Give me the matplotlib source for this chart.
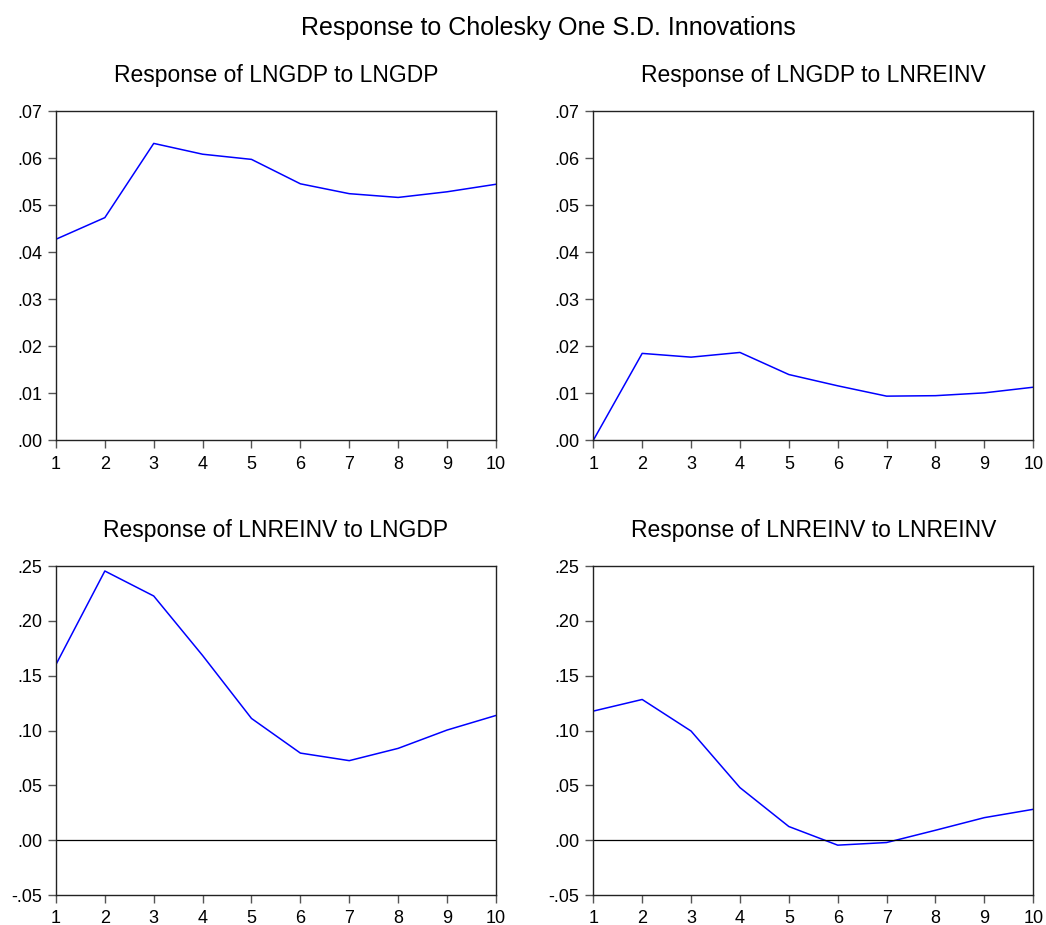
import matplotlib
matplotlib.use("Agg")
import matplotlib.pyplot as plt
from matplotlib.ticker import FuncFormatter

plt.rcParams['font.family'] = ['Liberation Sans', 'DejaVu Sans']

periods = [1, 2, 3, 4, 5, 6, 7, 8, 9, 10]

gdp_to_gdp = [0.0428, 0.0474, 0.0632, 0.0609, 0.0598, 0.0546, 0.0525, 0.0517, 0.0529, 0.0545]
gdp_to_reinv = [0.0000, 0.0185, 0.0177, 0.0187, 0.0140, 0.0116, 0.0094, 0.0095, 0.0101, 0.0113]
reinv_to_gdp = [0.1603, 0.2456, 0.2228, 0.1685, 0.1111, 0.0795, 0.0726, 0.0838, 0.1005, 0.1138]
reinv_to_reinv = [0.1178, 0.1284, 0.0996, 0.0480, 0.0125, -0.0045, -0.0021, 0.0091, 0.0206, 0.0282]

titles = ["Response of LNGDP to LNGDP", "Response of LNGDP to LNREINV",
          "Response of LNREINV to LNGDP", "Response of LNREINV to LNREINV"]
series = [gdp_to_gdp, gdp_to_reinv, reinv_to_gdp, reinv_to_reinv]

top_ticks = [0.00, 0.01, 0.02, 0.03, 0.04, 0.05, 0.06, 0.07]
bottom_ticks = [-0.05, 0.00, 0.05, 0.10, 0.15, 0.20, 0.25]


def fmt(v, pos):
    s = "%.2f" % v
    if s.startswith("0."):
        s = s[1:]
    elif s.startswith("-0."):
        s = "-" + s[2:]
    return s


fig = plt.figure(figsize=(10.46, 9.25), dpi=100)
fig.text(0.524, 0.970, "Response to Cholesky One S.D. Innovations",
         ha="center", va="center", fontsize=18)

lefts = [0.0535, 0.5672, 0.0535, 0.5672]
bottoms = [0.524, 0.524, 0.0324, 0.0324]
w, h = 0.4206, 0.3555

for i in range(4):
    ax = fig.add_axes([lefts[i], bottoms[i], w, h])
    ax.plot(periods, series[i], color="#0000ff", lw=1.1)
    if i < 2:
        ax.set_ylim(0, 0.07)
        ax.set_yticks(top_ticks)
    else:
        ax.set_ylim(-0.05, 0.25)
        ax.set_yticks(bottom_ticks)
        ax.axhline(0, color="black", lw=0.9)
    ax.set_xlim(1, 10)
    ax.set_xticks(periods)
    ax.yaxis.set_major_formatter(FuncFormatter(fmt))
    ax.tick_params(direction="out", length=6, width=1, color="#555555",
                   labelsize=13)
    ax.tick_params(axis="x", pad=5)
    ax.tick_params(axis="y", pad=4)
    for sp in ax.spines.values():
        sp.set_linewidth(1.0)
        sp.set_color("#222222")
    ax.set_title(titles[i], fontsize=16.5, pad=21)

fig.savefig("out.png", dpi=100)
